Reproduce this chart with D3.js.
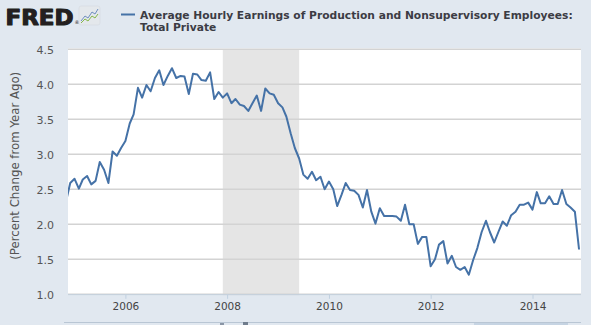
<!DOCTYPE html>
<html>
<head>
<meta charset="utf-8">
<script src="https://cdn.jsdelivr.net/npm/d3@7"></script>
<style>
  html, body { margin: 0; padding: 0; background: #e1e8f0; }
  svg { display: block; }
  text { font-family: "DejaVu Sans", Verdana, sans-serif; }
</style>
</head>
<body>
<svg id="chart" width="591" height="325"></svg>
<script>
// Average Hourly Earnings of Production and Nonsupervisory Employees: Total Private
// Percent change from a year ago, monthly, starting November 2004.
const firstMonth = "2004-11";
const pctChange = [
  2.33, 2.59,
  2.65, 2.51, 2.64, 2.69, 2.57, 2.62, 2.89, 2.78, 2.59, 3.04, 2.98, 3.09,
  3.19, 3.44, 3.57, 3.95, 3.81, 3.99, 3.90, 4.09, 4.20, 3.99, 4.12, 4.23,
  4.09, 4.12, 4.11, 3.86, 4.15, 4.14, 4.06, 4.05, 4.17, 3.79, 3.89, 3.81,
  3.87, 3.73, 3.79, 3.71, 3.69, 3.62, 3.73, 3.84, 3.62, 3.94, 3.87, 3.85,
  3.73, 3.67, 3.54, 3.30, 3.09, 2.94, 2.71, 2.65, 2.75, 2.63, 2.68, 2.50,
  2.61, 2.50, 2.26, 2.42, 2.59, 2.49, 2.48, 2.42, 2.24, 2.49, 2.18, 2.01,
  2.23, 2.12, 2.12, 2.12, 2.11, 2.05, 2.28, 2.00, 2.00, 1.72, 1.82, 1.82,
  1.40, 1.50, 1.71, 1.76, 1.44, 1.55, 1.39, 1.35, 1.39, 1.28, 1.49, 1.66,
  1.89, 2.05, 1.89, 1.74, 1.89, 2.04, 1.98, 2.13, 2.18, 2.28, 2.28, 2.31,
  2.21, 2.46, 2.30, 2.30, 2.40, 2.29, 2.29, 2.49, 2.29, 2.24, 2.18, 1.64
];
const recession = ["2007-12", "2009-06"];
const yTicks = [1.0, 1.5, 2.0, 2.5, 3.0, 3.5, 4.0, 4.5];
const xTickYears = [2006, 2008, 2010, 2012, 2014];
const seriesName = "Average Hourly Earnings of Production and Nonsupervisory Employees:";
const seriesName2 = "Total Private";
const yAxisTitle = "(Percent Change from Year Ago)";

const parseMonth = d3.timeParse("%Y-%m");
const start = parseMonth(firstMonth);
const data = pctChange.map((v, i) => ({ date: d3.timeMonth.offset(start, i), value: v }));

const svg = d3.select("#chart");
const W = 591, H = 325;
const plot = { left: 68, right: 581, top: 49.3, bottom: 294.3 };

svg.append("rect").attr("width", W).attr("height", H).attr("fill", "#e1e8f0");

const x = d3.scaleTime()
  .domain([new Date(2004, 10, 15), new Date(2014, 11, 15)])
  .range([plot.left, plot.right]);
const y = d3.scaleLinear().domain([1.0, 4.5]).range([plot.bottom, plot.top]);

// plot background
svg.append("rect")
  .attr("x", plot.left).attr("y", plot.top - 1)
  .attr("width", plot.right - plot.left).attr("height", plot.bottom - plot.top + 2)
  .attr("fill", "#ffffff");

svg.append("defs").append("clipPath").attr("id", "plotClip")
  .append("rect")
  .attr("x", plot.left).attr("y", plot.top - 2)
  .attr("width", plot.right - plot.left).attr("height", plot.bottom - plot.top + 4);

// recession band
svg.append("rect")
  .attr("x", x(parseMonth(recession[0])))
  .attr("y", plot.top)
  .attr("width", x(parseMonth(recession[1])) - x(parseMonth(recession[0])))
  .attr("height", plot.bottom - plot.top + 1)
  .attr("fill", "#e5e5e5");

// horizontal gridlines
svg.append("g").selectAll("line").data(yTicks).join("line")
  .attr("x1", plot.left).attr("x2", plot.right)
  .attr("y1", d => y(d)).attr("y2", d => y(d))
  .attr("stroke", "#d3d3d3").attr("stroke-width", 1.5);

// y axis labels
const yAxis = d3.axisLeft(y).tickValues(yTicks).tickFormat(d3.format(".1f")).tickSize(0).tickPadding(0);
const gy = svg.append("g").attr("transform", `translate(54,0)`).call(yAxis);
gy.select(".domain").remove();
gy.selectAll("text")
  .attr("fill", "#555555")
  .style("font-size", "11px")
  .attr("dy", "0.36em");

// y axis title
const yt = svg.append("text")
  .attr("transform", `translate(18.5,${(plot.top + plot.bottom) / 2 - 6}) rotate(-90)`)
  .attr("text-anchor", "middle")
  .attr("fill", "#555555")
  .style("font-size", "11px")
  .text(yAxisTitle);
{
  const len = yt.node().getComputedTextLength();
  yt.style("font-size", (11 * 188 / len).toFixed(2) + "px");
}

// x axis
const xAxis = d3.axisBottom(x)
  .tickValues(xTickYears.map(yr => new Date(yr, 0, 1)))
  .tickFormat(d3.timeFormat("%Y"))
  .tickSize(4).tickPadding(4);
const gx = svg.append("g").attr("transform", `translate(0,${plot.bottom + 0.5})`).call(xAxis);
gx.select(".domain").attr("stroke", "#c0d0e0").attr("d", `M${plot.left},0H${plot.right}`);
gx.selectAll(".tick line").attr("stroke", "#c0d0e0");
gx.selectAll("text").attr("fill", "#444444").style("font-size", "10.5px");

// series line
const line = d3.line().x(d => x(d.date)).y(d => y(d.value));
svg.append("path")
  .datum(data)
  .attr("clip-path", "url(#plotClip)")
  .attr("fill", "none")
  .attr("stroke", "#4572a7")
  .attr("stroke-width", 2)
  .attr("stroke-linejoin", "round")
  .attr("d", line);

// navigator strip at the bottom edge
svg.append("line")
  .attr("x1", plot.left - 4).attr("x2", plot.right).attr("y1", 322.5).attr("y2", 322.5)
  .attr("stroke", "#b9c6d4").attr("stroke-width", 1);
svg.append("rect").attr("x", 474).attr("y", 323).attr("width", 94).attr("height", 2).attr("fill", "#c6d4e3");
svg.append("rect").attr("x", 220).attr("y", 323).attr("width", 4).attr("height", 2).attr("fill", "#8a96a6");
svg.append("rect").attr("x", 243).attr("y", 322).attr("width", 5).attr("height", 3).attr("fill", "#6f7c8c");

// FRED logo
svg.append("text")
  .attr("x", 5.5).attr("y", 24.5)
  .attr("textLength", 68).attr("lengthAdjust", "spacingAndGlyphs")
  .attr("fill", "#231f20")
  .attr("stroke", "#231f20").attr("stroke-width", 1.1).attr("stroke-linejoin", "round")
  .style("font-size", "21px").style("font-weight", "bold")
  .text("FRED");
svg.append("text")
  .attr("x", 74.5).attr("y", 24)
  .attr("fill", "#231f20").style("font-size", "5px")
  .text("®");
const icon = svg.append("g").attr("transform", "translate(79,6)");
icon.append("rect").attr("width", 21).attr("height", 19).attr("rx", 2)
  .attr("fill", "#e4e8ec").attr("stroke", "#d0d6dc").attr("stroke-width", 0.5);
icon.append("polyline")
  .attr("points", "2,15 6,10 9,12 13,6 16,8 19,3")
  .attr("fill", "none").attr("stroke", "#6f8fbf").attr("stroke-width", 1);
icon.append("polyline")
  .attr("points", "2,17 6,13 9,15 13,10 16,12 19,8")
  .attr("fill", "none").attr("stroke", "#86b84a").attr("stroke-width", 1);

// legend
svg.append("line")
  .attr("x1", 121).attr("x2", 135).attr("y1", 14.5).attr("y2", 14.5)
  .attr("stroke", "#4572a7").attr("stroke-width", 2);
const t1 = svg.append("text")
  .attr("x", 140).attr("y", 18.5)
  .attr("fill", "#3c3c44")
  .style("font-size", "11px").style("font-weight", "bold")
  .text(seriesName);
const fitSize = 11 * 433 / t1.node().getComputedTextLength();
t1.style("font-size", fitSize.toFixed(2) + "px");
svg.append("text")
  .attr("x", 140).attr("y", 31)
  .attr("fill", "#3c3c44")
  .style("font-size", fitSize.toFixed(2) + "px").style("font-weight", "bold")
  .text(seriesName2);
</script>
</body>
</html>
